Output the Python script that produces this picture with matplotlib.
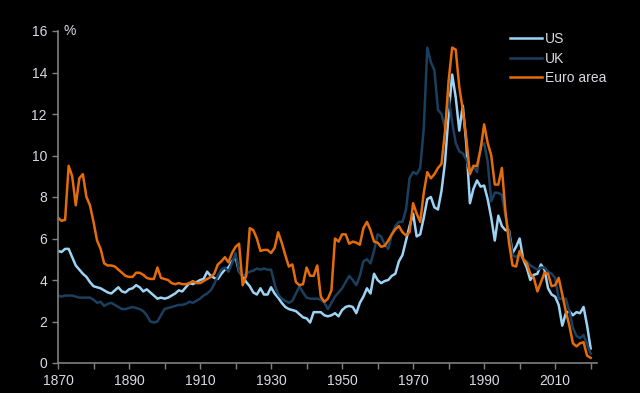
import matplotlib
matplotlib.use("Agg")
import matplotlib.pyplot as plt
from matplotlib.ticker import MultipleLocator, FixedLocator

plt.rcParams['font.family'] = ['Liberation Sans', 'DejaVu Sans']

years = list(range(1870, 2021))

us = [5.4, 5.35, 5.5, 5.5, 5.1, 4.7, 4.5, 4.3, 4.15, 3.9,
      3.7, 3.65, 3.6, 3.5, 3.4, 3.35, 3.5, 3.65, 3.45, 3.4,
      3.55, 3.6, 3.75, 3.65, 3.45, 3.55, 3.4, 3.25, 3.1, 3.15,
      3.1, 3.15, 3.25, 3.35, 3.5, 3.45, 3.65, 3.85, 3.8, 3.9,
      4.0, 4.05, 4.4, 4.2, 4.1, 4.05, 4.3, 4.5, 4.6, 4.9,
      5.1, 4.4, 4.2, 3.9, 3.7, 3.4, 3.3, 3.6, 3.3, 3.3,
      3.65, 3.35, 3.15, 2.9, 2.7, 2.6, 2.55, 2.5, 2.35, 2.2,
      2.15, 1.95, 2.45, 2.45, 2.45, 2.3, 2.25, 2.3, 2.4, 2.25,
      2.55, 2.7, 2.75, 2.7, 2.4, 2.9, 3.2, 3.6, 3.35, 4.3,
      4.0, 3.85, 3.95, 4.0, 4.2, 4.3, 4.9, 5.2, 5.9, 6.6,
      7.2, 6.1, 6.2, 7.0, 7.9, 8.0, 7.5, 7.4, 8.3, 9.7,
      12.0, 13.9, 12.8, 11.2, 12.4, 10.5, 7.7, 8.4, 8.8, 8.5,
      8.55, 7.9, 7.0, 5.9, 7.1, 6.6, 6.4, 6.4, 5.3, 5.6,
      6.0, 5.0, 4.6, 4.0, 4.25, 4.3, 4.75, 4.5, 3.6, 3.3,
      3.2, 2.8, 1.8, 2.4, 2.5, 2.3, 2.45, 2.4, 2.7, 1.8,
      0.7]

uk = [3.25, 3.2, 3.25, 3.25, 3.25, 3.2, 3.15, 3.15, 3.15, 3.15,
      3.05, 2.9, 2.95, 2.75, 2.85, 2.9, 2.8, 2.7, 2.6, 2.6,
      2.65, 2.7, 2.65, 2.6, 2.5, 2.3, 2.0, 1.95, 2.0, 2.3,
      2.6, 2.65, 2.7, 2.75, 2.8, 2.8, 2.85, 2.95, 2.9, 3.0,
      3.1, 3.25, 3.35, 3.5, 3.8, 4.2, 4.5, 4.6, 4.4, 4.8,
      5.3, 4.4, 4.2, 4.3, 4.4, 4.45, 4.55, 4.5, 4.55, 4.5,
      4.5, 3.8, 3.3, 3.1, 3.0, 2.9, 3.0, 3.35, 3.7, 3.4,
      3.15, 3.1, 3.1, 3.1, 3.05, 2.9, 2.6, 2.9, 3.2, 3.4,
      3.6, 3.9, 4.2, 4.0, 3.75, 4.2, 4.9, 5.0, 4.8, 5.4,
      6.2, 6.1, 5.7, 5.5, 6.2, 6.6, 6.8, 6.8, 7.4, 8.9,
      9.2, 9.1, 9.4, 11.3, 15.2, 14.5, 14.1, 12.2, 12.0, 11.3,
      12.8, 11.6, 10.6, 10.2, 10.1, 9.8, 9.2, 9.5, 9.2, 10.4,
      10.6, 9.7, 7.8, 8.2, 8.2, 8.1, 7.1, 6.3, 5.2, 5.1,
      5.3, 5.0, 4.9, 4.7, 4.6, 4.5, 4.6, 4.6, 4.4, 4.3,
      4.1, 3.1, 3.1, 3.1, 2.5, 1.7, 1.3, 1.2, 1.35, 0.9,
      0.45]

euro = [7.0, 6.85, 6.9, 9.5, 9.0, 7.6, 8.9, 9.1, 8.0, 7.6,
        6.8, 5.9, 5.5, 4.8, 4.7, 4.7, 4.65, 4.5, 4.35, 4.2,
        4.15, 4.15, 4.35, 4.35, 4.25, 4.1, 4.05, 4.05, 4.6, 4.1,
        4.05, 4.0, 3.85, 3.8, 3.85, 3.8, 3.8, 3.85, 3.95, 3.85,
        3.85, 3.95, 4.05, 4.15, 4.3, 4.75, 4.9, 5.1, 4.85, 5.3,
        5.6, 5.75, 3.75, 4.2, 6.5, 6.4, 6.0, 5.4, 5.45, 5.45,
        5.3, 5.55, 6.3, 5.8, 5.2, 4.65, 4.75, 3.9, 3.75, 3.8,
        4.6, 4.2, 4.2, 4.7, 3.2, 2.95, 3.1, 3.5, 6.0, 5.85,
        6.2, 6.2, 5.75, 5.85, 5.8, 5.7, 6.5, 6.8, 6.4, 5.85,
        5.8, 5.6, 5.65, 5.9, 6.2, 6.45, 6.6, 6.3, 6.15, 6.3,
        7.7, 7.2, 6.8, 8.2, 9.2, 8.9, 9.1, 9.4, 9.6, 11.2,
        13.6, 15.2, 15.1, 13.3, 12.2, 10.8, 9.1, 9.5, 9.5, 10.3,
        11.5, 10.6, 10.0, 8.6, 8.6, 9.4, 7.3, 5.8, 4.7, 4.65,
        5.4, 5.0, 4.8, 4.3, 4.1, 3.45, 3.9, 4.35, 4.3, 3.7,
        3.75, 4.1, 3.3, 2.5, 1.8, 0.95, 0.8, 0.95, 1.0, 0.35,
        0.25]

series_names = ["US", "UK", "Euro area"]
colors = ["#9DD3F5", "#1B3F5E", "#E46C0A"]

text_color = "#D9D9E3"
axis_color = "#808080"

fig = plt.figure(figsize=(6.4, 3.93), dpi=100, facecolor="black")
ax = fig.add_axes([58/640, 30/393, 538.7/640, 332/393], facecolor="black")

for vals, name, c in zip([us, uk, euro], series_names, colors):
    ax.plot(years, vals, color=c, lw=1.8, label=name, solid_joinstyle="round")

ax.set_xlim(1870, 2021.7)
ax.set_ylim(0, 16)
ax.xaxis.set_major_locator(FixedLocator(list(range(1870, 2021, 20))))
ax.xaxis.set_minor_locator(FixedLocator(list(range(1880, 2021, 20))))
ax.yaxis.set_major_locator(MultipleLocator(2))

for s in ["top", "right"]:
    ax.spines[s].set_visible(False)
for s in ["left", "bottom"]:
    ax.spines[s].set_color(axis_color)
    ax.spines[s].set_linewidth(1.2)

ax.tick_params(axis="both", which="both", colors=axis_color, length=4, width=1.0,
               labelcolor=text_color, labelsize=10)
ax.tick_params(axis="x", which="major", pad=4)
ax.tick_params(axis="y", which="major", pad=4)

fig.text(64/640, 1 - 31/393, "%", color=text_color, fontsize=10, va="center", ha="left")

leg = ax.legend(loc="upper left", bbox_to_anchor=(510/640, 1 - 32/393),
                bbox_transform=fig.transFigure, frameon=False, fontsize=10,
                handlelength=2.3, handletextpad=0.2, labelspacing=0.4,
                borderpad=0, borderaxespad=0)
for t in leg.get_texts():
    t.set_color(text_color)

fig.savefig("out.png", dpi=100, facecolor="black")
